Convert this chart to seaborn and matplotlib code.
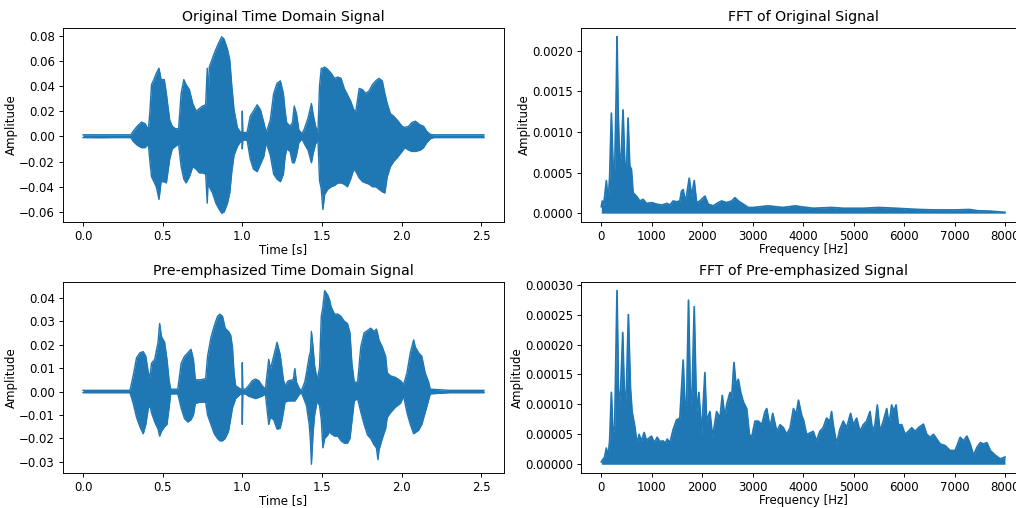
import matplotlib
matplotlib.use("Agg")
import matplotlib.pyplot as plt
import seaborn as sns
import pandas as pd

# ---------------- data ----------------
# Original time-domain signal: envelope (upper / lower amplitude) at time points [s]
t_orig = [0.00, 0.10, 0.20, 0.30, 0.315, 0.34, 0.367, 0.39, 0.41, 0.42,
          0.43, 0.445, 0.46, 0.477, 0.49, 0.51, 0.523, 0.544, 0.56, 0.58,
          0.60, 0.616, 0.633, 0.647, 0.668, 0.689, 0.71, 0.73, 0.75, 0.77,
          0.78, 0.785, 0.793, 0.813, 0.834, 0.855, 0.871, 0.886, 0.907, 0.921,
          0.934, 0.948, 0.969, 0.99, 0.998, 1.000, 1.003, 1.03, 1.05, 1.07,
          1.093, 1.114, 1.135, 1.15, 1.176, 1.197, 1.218, 1.239, 1.258, 1.268,
          1.278, 1.30, 1.315, 1.326, 1.34, 1.355, 1.375, 1.39, 1.413, 1.434,
          1.444, 1.46, 1.475, 1.485, 1.496, 1.506, 1.517, 1.537, 1.558, 1.579,
          1.60, 1.62, 1.64, 1.66, 1.68, 1.70, 1.713, 1.734, 1.755, 1.775,
          1.796, 1.817, 1.838, 1.858, 1.879, 1.895, 1.91, 1.93, 1.95, 1.972,
          2.003, 2.02, 2.045, 2.065, 2.086, 2.117, 2.138, 2.158, 2.18, 2.20,
          2.30, 2.40, 2.517]
up_orig = [0.0012, 0.0012, 0.0012, 0.0012, 0.004, 0.008, 0.0113, 0.010, 0.005, 0.020,
           0.041, 0.045, 0.050, 0.054, 0.045, 0.045, 0.034, 0.013, 0.008, 0.006,
           0.006, 0.034, 0.045, 0.041, 0.037, 0.026, 0.020, 0.022, 0.024, 0.025,
           0.054, 0.030, 0.055, 0.062, 0.069, 0.075, 0.079, 0.077, 0.069, 0.061,
           0.040, 0.021, 0.007, 0.003, 0.003, 0.020, 0.003, 0.003, 0.016, 0.020,
           0.025, 0.021, 0.011, 0.003, 0.013, 0.034, 0.042, 0.044, 0.034, 0.021,
           0.011, 0.008, 0.011, 0.024, 0.018, 0.005, 0.002, 0.006, 0.0145, 0.026,
           0.018, 0.008, 0.003, 0.040, 0.054, 0.054, 0.055, 0.053, 0.050, 0.046,
           0.047, 0.046, 0.038, 0.033, 0.028, 0.021, 0.020, 0.038, 0.037, 0.034,
           0.036, 0.041, 0.044, 0.046, 0.044, 0.034, 0.026, 0.018, 0.016, 0.013,
           0.008, 0.007, 0.008, 0.011, 0.012, 0.009, 0.008, 0.004, 0.0015, 0.0012,
           0.0012, 0.0012, 0.0012]
lo_orig = [-0.0010, -0.0011, -0.0010, -0.0010, -0.004, -0.007, -0.009, -0.009, -0.006, -0.020,
           -0.032, -0.036, -0.040, -0.050, -0.036, -0.036, -0.037, -0.018, -0.010, -0.008,
           -0.006, -0.024, -0.034, -0.037, -0.032, -0.024, -0.026, -0.029, -0.029, -0.030,
           -0.053, -0.035, -0.040, -0.045, -0.053, -0.058, -0.061, -0.060, -0.053, -0.045,
           -0.028, -0.015, -0.008, -0.004, -0.003, -0.010, -0.003, -0.003, -0.018, -0.026,
           -0.028, -0.022, -0.016, -0.005, -0.015, -0.030, -0.034, -0.036, -0.030, -0.017,
           -0.010, -0.012, -0.021, -0.021, -0.015, -0.005, -0.002, -0.006, -0.011, -0.021,
           -0.014, -0.006, -0.003, -0.035, -0.042, -0.058, -0.046, -0.042, -0.040, -0.039,
           -0.037, -0.037, -0.038, -0.040, -0.034, -0.026, -0.028, -0.033, -0.036, -0.037,
           -0.038, -0.040, -0.040, -0.042, -0.044, -0.045, -0.032, -0.024, -0.020, -0.017,
           -0.012, -0.009, -0.011, -0.012, -0.012, -0.011, -0.009, -0.005, -0.002, -0.001,
           -0.001, -0.001, -0.001]

# Pre-emphasized time-domain signal envelope
t_pre = [0.00, 0.10, 0.20, 0.295, 0.315, 0.336, 0.357, 0.378, 0.394, 0.41,
         0.42, 0.43, 0.45, 0.471, 0.481, 0.492, 0.512, 0.527, 0.54, 0.55,
         0.595, 0.616, 0.637, 0.658, 0.678, 0.693, 0.705, 0.74, 0.77, 0.782,
         0.803, 0.824, 0.844, 0.859, 0.876, 0.892, 0.913, 0.927, 0.938, 0.948,
         0.958, 0.99, 0.998, 1.000, 1.003, 1.02, 1.04, 1.062, 1.083, 1.104,
         1.124, 1.145, 1.166, 1.176, 1.197, 1.218, 1.237, 1.247, 1.258, 1.268,
         1.289, 1.32, 1.33, 1.34, 1.36, 1.372, 1.392, 1.403, 1.42, 1.428,
         1.434, 1.444, 1.454, 1.47, 1.485, 1.496, 1.506, 1.517, 1.537, 1.548,
         1.558, 1.579, 1.60, 1.62, 1.64, 1.66, 1.676, 1.688, 1.703, 1.724,
         1.744, 1.765, 1.786, 1.806, 1.827, 1.842, 1.852, 1.858, 1.879, 1.90,
         1.91, 1.93, 1.962, 1.993, 2.013, 2.034, 2.055, 2.076, 2.086, 2.107,
         2.127, 2.148, 2.17, 2.18, 2.30, 2.40, 2.517]
up_pre = [0.0005, 0.0005, 0.0005, 0.0005, 0.0067, 0.0144, 0.0165, 0.017, 0.015, 0.008,
          0.006, 0.012, 0.0137, 0.021, 0.029, 0.0235, 0.021, 0.0137, 0.005, 0.001,
          0.001, 0.012, 0.015, 0.0165, 0.018, 0.0137, 0.005, 0.005, 0.0055, 0.015,
          0.023, 0.028, 0.032, 0.033, 0.032, 0.027, 0.0256, 0.024, 0.019, 0.008,
          0.0025, 0.001, 0.001, 0.0123, 0.001, 0.001, 0.0025, 0.0046, 0.0053, 0.0046,
          0.0025, 0.001, 0.0137, 0.0095, 0.015, 0.021, 0.016, 0.011, 0.005, 0.0025,
          0.0046, 0.005, 0.0098, 0.004, 0.001, 0.0005, 0.004, 0.008, 0.015, 0.017,
          0.0256, 0.019, 0.011, 0.005, 0.010, 0.032, 0.036, 0.043, 0.041, 0.039,
          0.036, 0.033, 0.033, 0.032, 0.030, 0.029, 0.025, 0.012, 0.004, 0.004,
          0.019, 0.025, 0.026, 0.027, 0.0256, 0.0266, 0.024, 0.022, 0.019, 0.015,
          0.008, 0.0067, 0.006, 0.0046, 0.003, 0.008, 0.0165, 0.022, 0.019, 0.0165,
          0.015, 0.008, 0.004, 0.001, 0.0005, 0.0005, 0.0005]
lo_pre = [-0.0005, -0.0005, -0.0005, -0.0005, -0.005, -0.011, -0.015, -0.018, -0.014, -0.007,
          -0.006, -0.009, -0.013, -0.016, -0.019, -0.017, -0.015, -0.014, -0.007, -0.001,
          -0.001, -0.007, -0.0115, -0.013, -0.012, -0.010, -0.005, -0.0045, -0.0045, -0.010,
          -0.014, -0.018, -0.020, -0.021, -0.021, -0.020, -0.017, -0.0115, -0.007, -0.005,
          -0.003, -0.001, -0.001, -0.014, -0.001, -0.001, -0.002, -0.0025, -0.003, -0.0025,
          -0.002, -0.001, -0.014, -0.011, -0.012, -0.016, -0.0157, -0.013, -0.0087, -0.0045,
          -0.004, -0.004, -0.004, -0.003, -0.001, -0.0006, -0.004, -0.006, -0.014, -0.021,
          -0.031, -0.018, -0.010, -0.004, -0.006, -0.012, -0.024, -0.020, -0.0185, -0.017,
          -0.018, -0.019, -0.019, -0.021, -0.022, -0.022, -0.020, -0.0128, -0.004, -0.003,
          -0.0087, -0.014, -0.0185, -0.020, -0.0227, -0.024, -0.029, -0.025, -0.020, -0.0157,
          -0.011, -0.009, -0.0066, -0.005, -0.002, -0.009, -0.014, -0.018, -0.0175, -0.0165,
          -0.014, -0.009, -0.0035, -0.001, -0.0005, -0.0005, -0.0005]

# FFT magnitude of the original signal (peak envelope), frequency [Hz], amplitude [x1e-4]
freq_orig = [0, 20, 46, 100, 132, 165, 199, 232, 265, 298,
             311, 331, 364, 397, 430, 464, 497, 530, 563, 596,
             629, 695, 762, 828, 894, 1000, 1100, 1200, 1300, 1358,
             1424, 1490, 1556, 1589, 1622, 1656, 1689, 1742, 1788, 1841,
             1887, 1954, 2053, 2119, 2219, 2318, 2384, 2483, 2583, 2649,
             2715, 2815, 2914, 3013, 3300, 3600, 3850, 3940, 4200, 4563,
             4800, 5200, 5500, 5850, 6300, 6600, 7050, 7300, 7450, 7700,
             8000]
fft_orig_e4 = [0.8, 1.5, 0.9, 4.0, 1.3, 4.4, 12.3, 5.8, 5.4, 15.6,
               21.7, 13.1, 5.8, 7.4, 12.7, 6.2, 5.0, 11.7, 5.8, 5.4,
               2.5, 2.1, 1.5, 1.7, 1.2, 1.3, 1.1, 1.0, 1.2, 1.0,
               1.5, 1.4, 1.5, 2.7, 2.9, 1.7, 2.1, 4.3, 2.1, 4.0,
               1.3, 1.5, 2.1, 1.1, 0.9, 1.3, 1.5, 1.3, 1.5, 1.9,
               1.5, 1.1, 0.7, 0.7, 0.9, 0.7, 0.9, 0.8, 0.6, 0.7,
               0.6, 0.6, 0.7, 0.6, 0.45, 0.4, 0.4, 0.45, 0.3, 0.25,
               0.1]

# FFT magnitude of the pre-emphasized signal (peak envelope), amplitude [x1e-5]
freq_pre = [0, 30, 66, 100, 132, 165, 199, 232, 265, 298,
            311, 344, 384, 424, 464, 497, 536, 576, 609, 662,
            709, 748, 795, 848, 894, 993, 1050, 1106, 1160, 1225,
            1270, 1305, 1360, 1424, 1490, 1556, 1589, 1622, 1656, 1689,
            1728, 1768, 1801, 1841, 1887, 1934, 1987, 2053, 2086, 2152,
            2205, 2285, 2351, 2397, 2450, 2483, 2550, 2583, 2629, 2669,
            2715, 2762, 2815, 2881, 2934, 2980, 3046, 3113, 3179, 3245,
            3278, 3344, 3397, 3477, 3543, 3609, 3675, 3742, 3808, 3861,
            3907, 3967, 4013, 4066, 4132, 4199, 4265, 4331, 4397, 4464,
            4530, 4563, 4596, 4662, 4728, 4795, 4861, 4940, 4993, 5060,
            5126, 5192, 5258, 5325, 5377, 5424, 5470, 5523, 5589, 5656,
            5702, 5755, 5801, 5841, 5887, 5954, 6020, 6086, 6152, 6219,
            6285, 6384, 6450, 6517, 6583, 6649, 6715, 6815, 6914, 7013,
            7113, 7179, 7245, 7311, 7377, 7444, 7510, 7576, 7642, 7709,
            7808, 7907, 8000]
fft_pre_e5 = [0.4, 0.8, 1.2, 2.7, 1.2, 3.9, 12.0, 5.0, 6.4, 22.0,
              29.0, 9.3, 12.6, 22.0, 9.3, 12.6, 25.0, 12.9, 8.8, 6.4,
              3.4, 5.0, 3.9, 5.3, 4.0, 4.7, 3.6, 4.5, 3.8, 3.9,
              3.5, 4.2, 3.6, 5.8, 7.4, 7.7, 12.6, 17.4, 9.9, 9.9,
              27.4, 9.9, 12.6, 26.3, 8.8, 12.0, 5.0, 15.3, 7.2, 8.8,
              4.5, 8.8, 7.7, 11.5, 7.7, 9.9, 12.0, 11.0, 17.0, 13.2,
              14.2, 12.0, 10.4, 9.3, 5.0, 4.5, 7.2, 7.2, 6.6, 8.8,
              9.3, 6.1, 8.5, 5.5, 6.6, 6.1, 5.0, 6.1, 9.3, 8.3,
              10.7, 8.3, 7.2, 5.0, 5.2, 5.5, 3.9, 5.5, 6.1, 7.7,
              7.2, 8.8, 6.6, 3.4, 5.8, 7.2, 6.1, 8.5, 6.6, 7.7,
              5.5, 6.6, 7.2, 8.8, 5.5, 6.6, 9.9, 5.5, 7.2, 9.3,
              6.6, 9.9, 8.8, 9.9, 6.6, 6.6, 5.0, 5.5, 6.1, 5.5,
              6.1, 6.7, 5.0, 4.5, 5.0, 4.2, 3.4, 3.1, 2.3, 2.3,
              4.5, 3.9, 4.7, 3.4, 1.5, 2.8, 3.6, 3.4, 3.6, 2.3,
              1.5, 0.9, 1.2]

titles = ["Original Time Domain Signal", "FFT of Original Signal",
          "Pre-emphasized Time Domain Signal", "FFT of Pre-emphasized Signal"]
xlabel_time = "Time [s]"
xlabel_freq = "Frequency [Hz]"
ylabel = "Amplitude"

assert len(t_orig) == len(up_orig) == len(lo_orig)
assert len(t_pre) == len(up_pre) == len(lo_pre)
assert len(freq_orig) == len(fft_orig_e4)
assert len(freq_pre) == len(fft_pre_e5)

# ---------------- plotting ----------------
BLUE = "#1f77b4"
plt.rcParams["font.family"] = ["DejaVu Sans"]

DPI = 1016 / 12
fig = plt.figure(figsize=(12, 6), dpi=DPI)
ax_tl = fig.add_axes([0.062, 0.563, 0.434, 0.382])
ax_tr = fig.add_axes([0.572, 0.563, 0.437, 0.382])
ax_bl = fig.add_axes([0.062, 0.069, 0.434, 0.376])
ax_br = fig.add_axes([0.572, 0.069, 0.437, 0.376])


def draw_wave(ax, t, up, lo, title):
    df = pd.DataFrame({"t": t, "up": up, "lo": lo})
    ax.fill_between(df["t"], df["lo"], df["up"], color=BLUE, linewidth=0)
    sns.lineplot(data=df, x="t", y="up", ax=ax, color=BLUE, linewidth=1.2)
    sns.lineplot(data=df, x="t", y="lo", ax=ax, color=BLUE, linewidth=1.2)
    ax.set_title(title)
    ax.set_xlabel(xlabel_time, labelpad=0)
    ax.set_ylabel(ylabel, labelpad=1)
    ax.set_xticks([0.0, 0.5, 1.0, 1.5, 2.0, 2.5])


def draw_fft(ax, f, amp, scale, title):
    df = pd.DataFrame({"f": f, "a": [v * scale for v in amp]})
    ax.fill_between(df["f"], 0.0, df["a"], color=BLUE, linewidth=0)
    sns.lineplot(data=df, x="f", y="a", ax=ax, color=BLUE, linewidth=1.5)
    ax.set_title(title)
    ax.set_xlabel(xlabel_freq, labelpad=0)
    ax.set_ylabel(ylabel, labelpad=1)
    ax.set_xticks(range(0, 8001, 1000))


draw_wave(ax_tl, t_orig, up_orig, lo_orig, titles[0])
draw_fft(ax_tr, freq_orig, fft_orig_e4, 1e-4, titles[1])
draw_wave(ax_bl, t_pre, up_pre, lo_pre, titles[2])
draw_fft(ax_br, freq_pre, fft_pre_e5, 1e-5, titles[3])

ax_tl.set_yticks([-0.06, -0.04, -0.02, 0.0, 0.02, 0.04, 0.06, 0.08])
ax_bl.set_yticks([-0.03, -0.02, -0.01, 0.0, 0.01, 0.02, 0.03, 0.04])
ax_tr.set_yticks([0.0, 0.0005, 0.0010, 0.0015, 0.0020])
ax_tr.yaxis.set_major_formatter(matplotlib.ticker.FormatStrFormatter("%.4f"))
ax_br.set_yticks([0.0, 0.00005, 0.00010, 0.00015, 0.00020, 0.00025, 0.00030])
ax_br.yaxis.set_major_formatter(matplotlib.ticker.FormatStrFormatter("%.5f"))

fig.savefig("out.png", dpi=DPI)
